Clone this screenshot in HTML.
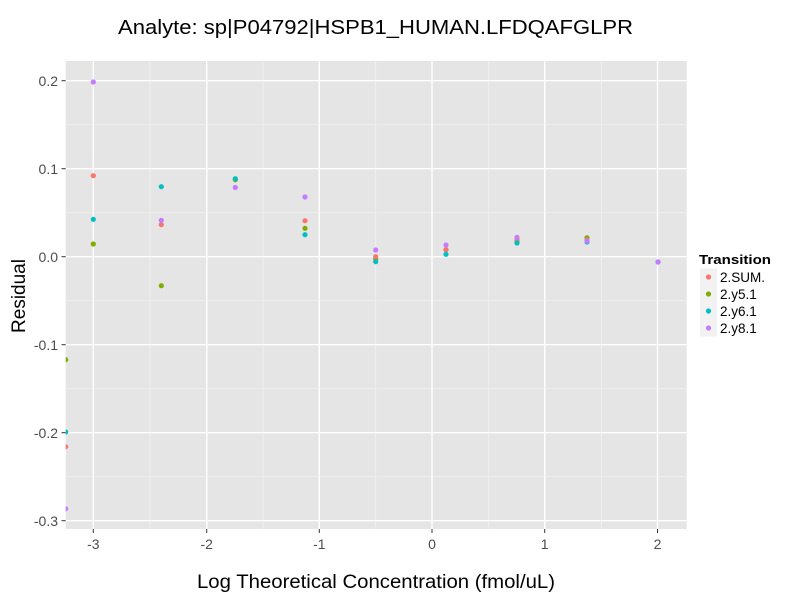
<!DOCTYPE html>
<html><head><meta charset="utf-8"><style>body{margin:0;background:#fff}svg{display:block;font-family:"Liberation Sans",sans-serif}</style></head><body>
<svg width="800" height="600" xmlns="http://www.w3.org/2000/svg">
<defs><clipPath id="c"><rect x="65.7" y="61" width="621" height="468"/></clipPath></defs>
<rect x="65.7" y="61" width="621" height="468" fill="#e5e5e5"/>
<g stroke="#f2f2f2" stroke-width="0.7">
<line x1="150" x2="150" y1="61" y2="529"/><line x1="263" x2="263" y1="61" y2="529"/><line x1="375.7" x2="375.7" y1="61" y2="529"/><line x1="488.5" x2="488.5" y1="61" y2="529"/><line x1="601.3" x2="601.3" y1="61" y2="529"/>
<line x1="65.7" x2="686.7" y1="124.7" y2="124.7"/><line x1="65.7" x2="686.7" y1="212.7" y2="212.7"/><line x1="65.7" x2="686.7" y1="300.7" y2="300.7"/><line x1="65.7" x2="686.7" y1="388.7" y2="388.7"/><line x1="65.7" x2="686.7" y1="476.7" y2="476.7"/>
</g>
<g stroke="#fff" stroke-width="1.4">
<line x1="93.3" x2="93.3" y1="61" y2="529"/><line x1="206.7" x2="206.7" y1="61" y2="529"/><line x1="319.3" x2="319.3" y1="61" y2="529"/><line x1="432" x2="432" y1="61" y2="529"/><line x1="544.7" x2="544.7" y1="61" y2="529"/><line x1="657.5" x2="657.5" y1="61" y2="529"/>
<line x1="65.7" x2="686.7" y1="80.7" y2="80.7"/><line x1="65.7" x2="686.7" y1="168.7" y2="168.7"/><line x1="65.7" x2="686.7" y1="256.7" y2="256.7"/><line x1="65.7" x2="686.7" y1="344.7" y2="344.7"/><line x1="65.7" x2="686.7" y1="432.7" y2="432.7"/><line x1="65.7" x2="686.7" y1="520.7" y2="520.7"/>
</g>
<g clip-path="url(#c)">
<g fill="#7CAE00"><circle cx="65.7" cy="359.7" r="2.6"/><circle cx="93.3" cy="244" r="2.6"/><circle cx="161.3" cy="285.7" r="2.6"/><circle cx="235.3" cy="179.7" r="2.6"/><circle cx="305" cy="228.3" r="2.6"/><circle cx="375.7" cy="259" r="2.6"/><circle cx="446" cy="249.7" r="2.6"/><circle cx="517" cy="241" r="2.6"/><circle cx="587" cy="237.7" r="2.6"/></g>
<g fill="#F8766D"><circle cx="65.7" cy="446.7" r="2.6"/><circle cx="93.3" cy="175.7" r="2.6"/><circle cx="161.3" cy="224.7" r="2.6"/><circle cx="305" cy="220.7" r="2.6"/><circle cx="375.7" cy="256.7" r="2.6"/><circle cx="446" cy="249.7" r="2.6"/><circle cx="517" cy="239.5" r="2.6"/><circle cx="587" cy="240" r="2.6"/></g>
<g fill="#00BFC4"><circle cx="65.7" cy="432" r="2.6"/><circle cx="93.3" cy="219.3" r="2.6"/><circle cx="161.3" cy="186.7" r="2.6"/><circle cx="235.3" cy="178.7" r="2.6"/><circle cx="305" cy="234.7" r="2.6"/><circle cx="375.7" cy="261.7" r="2.6"/><circle cx="446" cy="254.3" r="2.6"/><circle cx="517" cy="243" r="2.6"/><circle cx="587" cy="242" r="2.6"/><circle cx="658" cy="262" r="2.6"/></g>
<g fill="#C77CFF"><circle cx="65.7" cy="508.7" r="2.6"/><circle cx="93.3" cy="82" r="2.6"/><circle cx="161.3" cy="220.3" r="2.6"/><circle cx="235.3" cy="187.5" r="2.6"/><circle cx="305" cy="197" r="2.6"/><circle cx="375.7" cy="250" r="2.6"/><circle cx="446" cy="245" r="2.6"/><circle cx="517" cy="237.3" r="2.6"/><circle cx="587" cy="241" r="2.6"/><circle cx="658" cy="262" r="2.6"/></g>
</g>
<g stroke="#333" stroke-width="1">
<line x1="61.5" x2="65.7" y1="80.7" y2="80.7"/><line x1="61.5" x2="65.7" y1="168.7" y2="168.7"/><line x1="61.5" x2="65.7" y1="256.7" y2="256.7"/><line x1="61.5" x2="65.7" y1="344.7" y2="344.7"/><line x1="61.5" x2="65.7" y1="432.7" y2="432.7"/><line x1="61.5" x2="65.7" y1="520.7" y2="520.7"/>
<line x1="93.3" x2="93.3" y1="529" y2="533"/><line x1="206.7" x2="206.7" y1="529" y2="533"/><line x1="319.3" x2="319.3" y1="529" y2="533"/><line x1="432" x2="432" y1="529" y2="533"/><line x1="544.7" x2="544.7" y1="529" y2="533"/><line x1="657.5" x2="657.5" y1="529" y2="533"/>
</g>
<g font-size="14" fill="#4d4d4d" text-anchor="end">
<text x="58" y="86">0.2</text><text x="58" y="174">0.1</text><text x="58" y="262">0.0</text><text x="58" y="350">-0.1</text><text x="58" y="438">-0.2</text><text x="58" y="526">-0.3</text>
</g>
<g font-size="14" fill="#4d4d4d" text-anchor="middle">
<text x="93.3" y="549">-3</text><text x="206.7" y="549">-2</text><text x="319.3" y="549">-1</text><text x="432" y="549">0</text><text x="544.7" y="549">1</text><text x="657.5" y="549">2</text>
</g>
<text x="118" y="34" font-size="20" textLength="515" lengthAdjust="spacingAndGlyphs">Analyte: sp|P04792|HSPB1_HUMAN.LFDQAFGLPR</text>
<text x="197" y="588" font-size="19" textLength="358" lengthAdjust="spacingAndGlyphs">Log Theoretical Concentration (fmol/uL)</text>
<text transform="translate(25,296) rotate(-90)" font-size="19" text-anchor="middle">Residual</text>
<text x="699" y="264" font-size="13" font-weight="bold" textLength="72" lengthAdjust="spacingAndGlyphs">Transition</text>
<g fill="#f2f2f2"><rect x="700" y="268.5" width="17" height="17"/><rect x="700" y="285.5" width="17" height="17"/><rect x="700" y="302.5" width="17" height="17"/><rect x="700" y="319.5" width="17" height="17"/></g>
<circle cx="708.5" cy="277" r="2.6" fill="#F8766D"/><circle cx="708.5" cy="294" r="2.6" fill="#7CAE00"/><circle cx="708.5" cy="311" r="2.6" fill="#00BFC4"/><circle cx="708.5" cy="328" r="2.6" fill="#C77CFF"/>
<g font-size="13.5"><text x="720" y="282">2.SUM.</text><text x="720" y="299">2.y5.1</text><text x="720" y="316">2.y6.1</text><text x="720" y="333">2.y8.1</text></g>
</svg>
</body></html>
